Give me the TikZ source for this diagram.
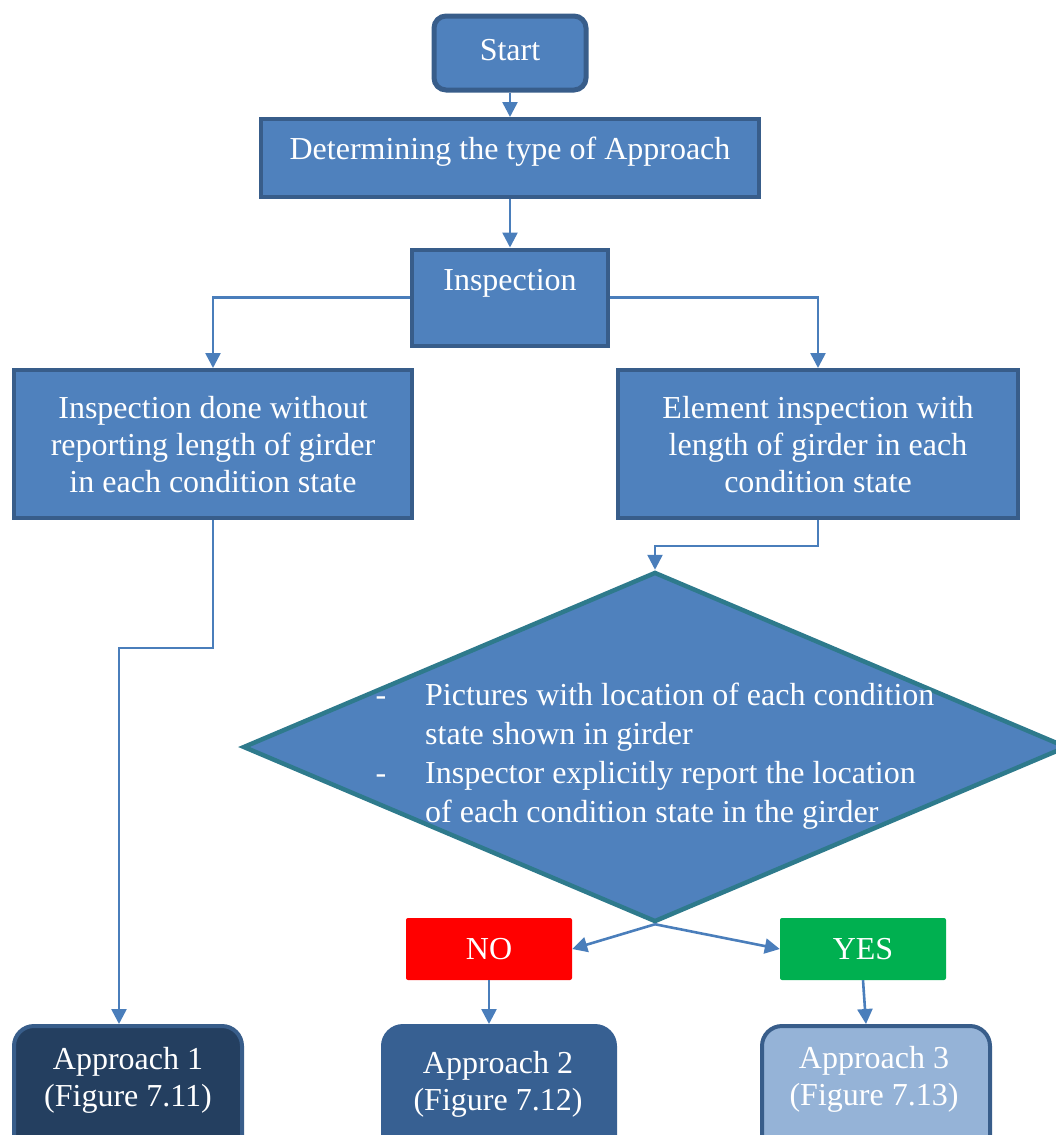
\documentclass[tikz,border=0pt]{standalone}
\usepackage{fontspec}
\setmainfont{Liberation Serif}
\usetikzlibrary{arrows.meta,shapes.geometric,calc}

\definecolor{boxfill}{HTML}{4F81BD}
\definecolor{boxline}{HTML}{385D8A}
\definecolor{wire}{HTML}{4A7EBB}
\definecolor{diaedge}{HTML}{2E7A8C}
\definecolor{darkfill}{HTML}{243F60}
\definecolor{midfill}{HTML}{376092}
\definecolor{lightfill}{HTML}{95B3D7}
\definecolor{nored}{HTML}{FF0000}
\definecolor{yesgreen}{HTML}{00B050}

\begin{document}
\begin{tikzpicture}[x=1pt,y=-1pt,
  box/.style={draw=boxline, fill=boxfill, line width=4pt, inner sep=0pt},
  roundbox/.style={box, rounded corners=12pt, line width=5pt},
  appbox/.style={draw=boxline, line width=4pt, rounded corners=20pt, inner sep=0pt,
                 minimum width=228pt, minimum height=160pt, anchor=north},
  flag/.style={draw=none, rounded corners=2pt, inner sep=0pt,
               minimum width=166pt, minimum height=62pt},
  txt/.style={text=white, font=\fontsize{32}{37}\selectfont, align=center, inner sep=0pt},
  dtxt/.style={text=white, font=\fontsize{32}{39}\selectfont, align=left, inner sep=0pt},
  wireline/.style={draw=wire, line width=2.6pt},
  arr/.style={wireline, -{Triangle[length=15pt,width=15pt]}}
]
\useasboundingbox (0,0) rectangle (1056,1135);
\clip (0,0) rectangle (1056,1135);

% process boxes
\node[roundbox, minimum width=152pt, minimum height=74pt] (start) at (510,53) {};
\node[box, minimum width=498pt, minimum height=78pt] (det) at (510,158) {};
\node[box, minimum width=196pt, minimum height=96pt] (insp) at (510,297.5) {};
\node[box, minimum width=398pt, minimum height=148pt] (left) at (213,444) {};
\node[box, minimum width=400pt, minimum height=148pt] (right) at (818,444) {};

% decision
\node[diamond, draw=diaedge, fill=boxfill, line width=4.5pt, inner sep=0pt,
      minimum width=824pt, minimum height=350pt] (dia) at (655,747) {};

% outcome flags
\node[flag, fill=nored] (no) at (489,949) {};
\node[flag, fill=yesgreen] (yes) at (863,949) {};

% approaches
\node[appbox, fill=darkfill] (a1) at (128,1024) {};
\node[appbox, fill=midfill, draw=midfill, minimum width=232pt] (a2) at (499,1024) {};
\node[appbox, fill=lightfill] (a3) at (876,1024) {};

% texts
\node[txt] (startT) at (510,52.6) {\strut Start};
\node[txt] (detT) at (510,151.6) {\strut Determining the type of Approach};
\node[txt] (inspT) at (510,282.6) {\strut Inspection};
\node[txt] (leftT) at (213,447.6) {\strut Inspection done without\\\strut reporting length of girder\\\strut in each condition state};
\node[txt] (rightT) at (818,447.6) {\strut Element inspection with\\\strut length of girder in each\\\strut condition state};
\node[dtxt, anchor=west] (diaT) at (425,755.7) {\strut Pictures with location of each condition\\\strut state shown in girder\\\strut Inspector explicitly report the location\\\strut of each condition state in the girder};
\node[dtxt, anchor=base] (dashA) at (381,705) {-};
\node[dtxt, anchor=base] (dashB) at (381,783) {-};
\node[txt] (noT) at (489,951.6) {\strut NO};
\node[txt] (yesT) at (863,951.6) {\strut YES};
\node[txt] (a1T) at (128,1081) {\strut Approach 1\\\strut (Figure 7.11)};
\node[txt] (a2T) at (498,1084.6) {\strut Approach 2\\\strut (Figure 7.12)};
\node[txt] (a3T) at (874,1079.6) {\strut Approach 3\\\strut (Figure 7.13)};

% connectors
\draw[arr] (start.south) -- (det.north);
\draw[arr] (det.south) -- (insp.north);
\draw[arr] (insp.west) -| (left.north);
\draw[arr] (insp.east) -| (right.north);
\draw[arr] (right.south) -- ++(0,26) -| (dia.north);
\draw[arr] (left.south) -- ++(0,128) -| ([xshift=-9pt]a1.north);
\draw[arr] (dia.south) -- (no.east);
\draw[arr] (dia.south) -- (yes.west);
\draw[arr] (no.south) -- (no.south |- a2.north);
\draw[arr] (yes.south) -- ([xshift=-10pt]a3.north);
\end{tikzpicture}
\end{document}
